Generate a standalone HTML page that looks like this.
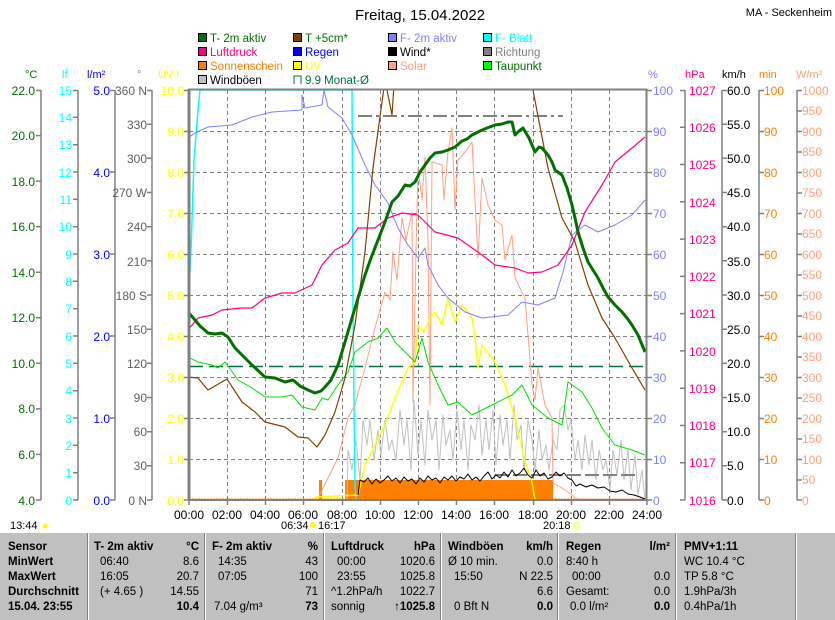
<!DOCTYPE html>
<html><head><meta charset="utf-8">
<style>
body{margin:0;background:#fff;width:835px;height:620px;overflow:hidden;font-family:"Liberation Sans",sans-serif}
svg text{font-family:"Liberation Sans",sans-serif}
.tb{position:absolute;left:0;top:533px;width:835px;height:87px;background:#c0c0c0;font-size:11.5px}
.c{position:absolute;top:0;height:87px;border-left:1px solid #fff;box-shadow:-1px 0 0 #808080}
.r{position:absolute;white-space:nowrap}
.b{font-weight:bold}
</style></head><body>
<svg width="835" height="533" style="position:absolute;left:0;top:0" font-size="12">
<defs><clipPath id="cp"><rect x="189" y="90" width="458" height="410"/></clipPath></defs>
<text x="420" y="20" text-anchor="middle" font-size="15">Freitag, 15.04.2022</text>
<text x="832" y="16" text-anchor="end" font-size="11">MA - Seckenheim</text>
<g font-size="11.5" stroke="#000" stroke-width="1">
<rect x="198.5" y="33.5" width="8" height="8" fill="#007000"/><rect x="198.5" y="47.5" width="8" height="8" fill="#ff0080"/><rect x="198.5" y="61.5" width="8" height="8" fill="#ff8000"/><rect x="198.5" y="75.5" width="8" height="8" fill="#c0c0c0"/>
<rect x="293.5" y="33.5" width="8" height="8" fill="#804000"/><rect x="293.5" y="47.5" width="8" height="8" fill="#0000ff"/><rect x="293.5" y="61.5" width="8" height="8" fill="#ffff00"/>
<rect x="388.5" y="33.5" width="8" height="8" fill="#8080ff"/><rect x="388.5" y="47.5" width="8" height="8" fill="#000"/><rect x="388.5" y="61.5" width="8" height="8" fill="#ffa080"/>
<rect x="483.5" y="33.5" width="8" height="8" fill="#00ffff"/><rect x="483.5" y="47.5" width="8" height="8" fill="#808080"/><rect x="483.5" y="61.5" width="8" height="8" fill="#00ff00"/>
<path d="M294 84V76h7v8" fill="none" stroke="#007040"/>
</g>
<g font-size="11.5">
<text x="210" y="42" fill="#007000">T- 2m aktiv</text><text x="210" y="56" fill="#ff0080">Luftdruck</text><text x="210" y="70" fill="#ff8000">Sonnenschein</text><text x="210" y="84">Windböen</text>
<text x="305" y="42" fill="#007000">T +5cm*</text><text x="305" y="56" fill="#0000ff">Regen</text><text x="305" y="70" fill="#ffff00">UV</text><text x="305" y="84" fill="#007040">9.9 Monat-Ø</text>
<text x="400" y="42" fill="#8080ff">F- 2m aktiv</text><text x="400" y="56">Wind*</text><text x="400" y="70" fill="#ffa080">Solar</text>
<text x="495" y="42" fill="#00ffff">F- Blatt</text><text x="495" y="56" fill="#808080">Richtung</text><text x="495" y="70" fill="#007000">Taupunkt</text>
</g>
<g font-size="11">
<text x="25" y="78" fill="#007000">°C</text><text x="62" y="78" fill="#00ffff">lf</text><text x="87" y="78" fill="#0000ff">l/m²</text><text x="137" y="78" fill="#808080">°</text><text x="158" y="78" fill="#ffff00">UV-I</text>
<text x="648" y="78" fill="#8080ff">%</text><text x="685" y="78" fill="#ff0080">hPa</text><text x="722" y="78">km/h</text><text x="759" y="78" fill="#ff8000">min</text><text x="796" y="78" fill="#ffa080">W/m²</text>
</g>
<g stroke="#808080" stroke-dasharray="4,3" stroke-width="1">
<path d="M227.5 90V500M265.5 90V500M303.5 90V500M342.5 90V500M380.5 90V500M418.5 90V500M456.5 90V500M494.5 90V500M533.5 90V500M571.5 90V500M609.5 90V500"/>
<path d="M189 131.5H647M189 172.5H647M189 213.5H647M189 254.5H647M189 295.5H647M189 336.5H647M189 377.5H647M189 418.5H647M189 459.5H647"/>
</g>
<g stroke="#808080" stroke-width="1.5" fill="none">
<path d="M41 90V500M78 90V500M115 90V500M152 90V500M685 90V500M722 90V500M759 90V500M797 90V500"/>
<path d="M36 90.5H41M36 135.6H41M36 181.1H41M36 226.7H41M36 272.2H41M36 317.8H41M36 363.3H41M36 408.9H41M36 454.4H41M36 500H41"/>
<path d="M73 90.5H78M73 117.3H78M73 144.7H78M73 172H78M73 199.3H78M73 226.7H78M73 254H78M73 281.3H78M73 308.7H78M73 336H78M73 363.3H78M73 390.7H78M73 418H78M73 445.3H78M73 472.7H78M73 500H78"/>
<path d="M110 90.5H115M110 172H115M110 254H115M110 336H115M110 418H115M110 500H115"/>
<path d="M147 90.5H152M147 124.2H152M147 158.3H152M147 192.5H152M147 226.7H152M147 260.8H152M147 295H152M147 329.2H152M147 363.3H152M147 397.5H152M147 431.7H152M147 465.8H152M147 500H152"/>
<path d="M184 90.5H189M184 131.5H189M184 172.5H189M184 213.5H189M184 254.5H189M184 295.5H189M184 336.5H189M184 377.5H189M184 418.5H189M184 459.5H189M184 500H189"/>
<path d="M647 90.5H652M647 131.5H652M647 172.5H652M647 213.5H652M647 254.5H652M647 295.5H652M647 336.5H652M647 377.5H652M647 418.5H652M647 459.5H652M647 500H652"/>
<path d="M680 90.5H685M680 127.3H685M680 164.5H685M680 201.8H685M680 239.1H685M680 276.4H685M680 313.6H685M680 350.9H685M680 388.2H685M680 425.5H685M680 462.7H685M680 500H685"/>
<path d="M722 90.5H727M722 124.2H727M722 158.3H727M722 192.5H727M722 226.7H727M722 260.8H727M722 295H727M722 329.2H727M722 363.3H727M722 397.5H727M722 431.7H727M722 465.8H727M722 500H727"/>
<path d="M759 90.5H764M759 131.5H764M759 172.5H764M759 213.5H764M759 254.5H764M759 295.5H764M759 336.5H764M759 377.5H764M759 418.5H764M759 459.5H764M759 500H764"/>
<path d="M797 90.5H802M797 111H802M797 131.5H802M797 152H802M797 172.5H802M797 193H802M797 213.5H802M797 234H802M797 254.5H802M797 275H802M797 295.5H802M797 316H802M797 336.5H802M797 357H802M797 377.5H802M797 398H802M797 418.5H802M797 439H802M797 459.5H802M797 480H802M797 500H802"/>
<path d="M227.5 500V505M265.5 500V505M303.5 500V505M342.5 500V505M380.5 500V505M418.5 500V505M456.5 500V505M494.5 500V505M533.5 500V505M571.5 500V505M609.5 500V505M647 500V505M189 500V505"/>
</g>
<g font-size="12" text-anchor="end">
<g fill="#007000"><text x="35" y="95">22.0</text><text x="35" y="140">20.0</text><text x="35" y="186">18.0</text><text x="35" y="231">16.0</text><text x="35" y="277">14.0</text><text x="35" y="322">12.0</text><text x="35" y="368">10.0</text><text x="35" y="413">8.0</text><text x="35" y="459">6.0</text><text x="35" y="505">4.0</text></g>
<g fill="#00ffff"><text x="72" y="95">15</text><text x="72" y="122">14</text><text x="72" y="149">13</text><text x="72" y="177">12</text><text x="72" y="204">11</text><text x="72" y="231">10</text><text x="72" y="259">9</text><text x="72" y="286">8</text><text x="72" y="313">7</text><text x="72" y="341">6</text><text x="72" y="368">5</text><text x="72" y="395">4</text><text x="72" y="423">3</text><text x="72" y="450">2</text><text x="72" y="477">1</text><text x="72" y="505">0</text></g>
<g fill="#0000ff"><text x="110" y="95">5.0</text><text x="110" y="177">4.0</text><text x="110" y="259">3.0</text><text x="110" y="341">2.0</text><text x="110" y="423">1.0</text><text x="110" y="505">0.0</text></g>
<g fill="#606060"><text x="147" y="95">360 N</text><text x="147" y="129">330</text><text x="147" y="163">300</text><text x="147" y="197">270 W</text><text x="147" y="231">240</text><text x="147" y="266">210</text><text x="147" y="300">180 S</text><text x="147" y="334">150</text><text x="147" y="368">120</text><text x="147" y="402">90</text><text x="147" y="436">60</text><text x="147" y="470">30</text><text x="147" y="505">0 N</text></g>
<g fill="#ffff00"><text x="184" y="95">10.0</text><text x="184" y="136">9.0</text><text x="184" y="177">8.0</text><text x="184" y="218">7.0</text><text x="184" y="259">6.0</text><text x="184" y="300">5.0</text><text x="184" y="341">4.0</text><text x="184" y="382">3.0</text><text x="184" y="423">2.0</text><text x="184" y="464">1.0</text><text x="184" y="505">0.0</text></g>
</g>
<g font-size="12">
<g fill="#8080ff"><text x="653" y="95">100</text><text x="653" y="136">90</text><text x="653" y="177">80</text><text x="653" y="218">70</text><text x="653" y="259">60</text><text x="653" y="300">50</text><text x="653" y="341">40</text><text x="653" y="382">30</text><text x="653" y="423">20</text><text x="653" y="464">10</text><text x="653" y="505">0</text></g>
<g fill="#ff0080"><text x="689" y="95">1027</text><text x="689" y="132">1026</text><text x="689" y="169">1025</text><text x="689" y="207">1024</text><text x="689" y="244">1023</text><text x="689" y="281">1022</text><text x="689" y="318">1021</text><text x="689" y="356">1020</text><text x="689" y="393">1019</text><text x="689" y="430">1018</text><text x="689" y="467">1017</text><text x="689" y="505">1016</text></g>
<g fill="#000"><text x="727" y="95">60.0</text><text x="727" y="129">55.0</text><text x="727" y="163">50.0</text><text x="727" y="197">45.0</text><text x="727" y="231">40.0</text><text x="727" y="266">35.0</text><text x="727" y="300">30.0</text><text x="727" y="334">25.0</text><text x="727" y="368">20.0</text><text x="727" y="402">15.0</text><text x="727" y="436">10.0</text><text x="727" y="470">5.0</text><text x="727" y="505">0.0</text></g>
<g fill="#ff8000"><text x="764" y="95">100</text><text x="764" y="136">90</text><text x="764" y="177">80</text><text x="764" y="218">70</text><text x="764" y="259">60</text><text x="764" y="300">50</text><text x="764" y="341">40</text><text x="764" y="382">30</text><text x="764" y="423">20</text><text x="764" y="464">10</text><text x="764" y="505">0</text></g>
<g fill="#ffa080"><text x="802" y="95">1000</text><text x="802" y="115">950</text><text x="802" y="136">900</text><text x="802" y="156">850</text><text x="802" y="177">800</text><text x="802" y="197">750</text><text x="802" y="218">700</text><text x="802" y="238">650</text><text x="802" y="259">600</text><text x="802" y="279">550</text><text x="802" y="300">500</text><text x="802" y="320">450</text><text x="802" y="341">400</text><text x="802" y="361">350</text><text x="802" y="382">300</text><text x="802" y="402">250</text><text x="802" y="423">200</text><text x="802" y="443">150</text><text x="802" y="464">100</text><text x="802" y="484">50</text><text x="802" y="505">0</text></g>
</g>
<g font-size="12" text-anchor="middle">
<text x="189" y="519">00:00</text><text x="227" y="519">02:00</text><text x="265" y="519">04:00</text><text x="303" y="519">06:00</text><text x="342" y="519">08:00</text><text x="380" y="519">10:00</text><text x="418" y="519">12:00</text><text x="456" y="519">14:00</text><text x="494" y="519">16:00</text><text x="533" y="519">18:00</text><text x="571" y="519">20:00</text><text x="609" y="519">22:00</text><text x="647" y="519">24:00</text>
</g>
<g font-size="11"><text x="10" y="529">13:44</text><text x="281" y="529">06:34</text><text x="318" y="529">16:17</text><text x="543" y="529">20:18</text></g>
<circle cx="45" cy="526" r="2.5" fill="#ffff00"/><circle cx="313" cy="525" r="3" fill="#ffff00"/><rect x="574" y="523" width="5" height="5" fill="none" stroke="#ffff00"/>
<g clip-path="url(#cp)" fill="none" stroke-linejoin="round">
<rect x="345" y="480" width="208" height="20" fill="#ff8000" stroke="none"/>
<rect x="319" y="480" width="3" height="20" fill="#ff8000" stroke="none"/>
<path d="M189 499H647" stroke="#ff8000" stroke-dasharray="2,1"/>
<polyline stroke="#c0c0c0" points="347,500 348,450 352,470 356,440 360,480 363,420 367,445 370,420 374,460 378,430 381,455 385,420 389,450 392,440 396,460 400,410 404,445 407,420 411,470 414,400 418,455 421,420 425,465 428,410 432,440 436,420 439,470 443,415 446,445 450,430 453,460 457,410 461,450 464,420 468,470 471,425 475,440 479,405 482,455 486,420 489,450 493,410 496,465 500,415 503,445 507,420 510,460 514,405 517,440 521,425 524,470 528,420 532,440 535,470 539,430 542,460 546,445 549,470 553,440 557,450 560,410 564,405 568,430 571,420 575,460 578,440 582,470 585,435 589,465 592,440 596,480 599,450 603,470 606,460 610,490 613,450 617,475 621,440 624,480 628,450 631,490 635,455 638,495 642,470 645,500"/>
<path d="M358 116H563" stroke="#808080" stroke-width="2" stroke-dasharray="14,4,3,4"/>
<path d="M495 475H635" stroke="#808080" stroke-width="2" stroke-dasharray="14,4"/>
<path d="M189 366.5H647" stroke="#007040" stroke-width="1.5" stroke-dasharray="14,6"/>
<polyline stroke="#00ffff" stroke-width="1.5" points="188,312 191,250 194,160 196,135 198,110 200,90 352,90 353,312 355,485 356,500"/>
<polyline stroke="#ffa080" points="318,498 328,478 338,458 348,418 355,405 365,368 375,328 385,292 390,300 393,252 397,280 402,218 406,240 412,212 413,402 416,250 418,168 422,200 425,157 428,240 430,405 432,162 442,165 444,200 448,152 452,128 455,210 458,160 465,152 472,142 478,258 482,178 488,205 495,220 502,225 505,260 512,235 515,278 525,298 528,335 532,385 535,400 538,368 545,405 552,418 553,483 562,488 572,495 577,499 647,499"/>
<polyline stroke="#ffff00" stroke-width="1.5" points="313,500 316,497 358,495 365,465 375,445 385,425 395,398 402,382 408,368 415,362 418,325 424,332 430,318 435,312 442,325 448,298 455,322 462,305 468,312 472,318 475,338 478,368 482,345 495,362 505,385 515,418 525,462 532,482 535,500"/>
<polyline stroke="#8080ff" points="188,138 195,133 208,127 232,125 252,117 272,112 302,110 302,95 305,108 322,105 324,90 328,107 342,118 352,135 365,165 375,185 388,203 398,228 408,245 418,258 425,248 428,265 438,285 448,298 465,312 482,318 508,315 522,302 538,305 555,298 563,272 572,235 585,225 598,232 615,225 632,215 645,200"/>
<polyline stroke="#ff0080" stroke-width="1.2" points="188,330 198,318 212,315 222,310 242,308 252,308 265,298 282,293 295,293 312,285 322,265 335,250 348,243 358,228 375,228 388,218 402,213 418,215 435,232 458,238 482,255 495,265 515,268 528,273 542,272 558,265 572,245 585,212 602,185 615,162 632,148 645,137"/>
<polyline stroke="#00e000" points="188,357 198,362 212,365 218,368 225,362 238,380 252,388 265,397 282,397 292,395 302,407 315,410 322,398 328,400 338,385 348,372 355,352 368,342 378,338 387,328 395,342 405,352 415,362 422,338 428,362 438,385 448,405 458,402 472,415 492,405 512,395 522,385 532,405 548,418 562,425 568,382 582,392 592,408 602,428 615,445 632,450 645,455"/>
<polyline stroke="#804000" stroke-width="1.2" points="188,377 198,378 208,390 227,379 242,402 255,412 265,422 285,427 298,437 308,438 317,447 325,435 335,412 345,378 355,325 365,252 373,168 382,102 385,80 392,115 395,70 530,70 532,85 548,168 562,218 575,242 588,285 602,318 615,338 632,368 645,390"/>
<polyline stroke="#000" points="358,495 360,480 364,482 368,478 372,484 376,479 380,483 384,480 388,476 392,481 396,478 400,483 404,477 408,481 412,479 416,484 420,478 424,482 428,476 432,480 436,478 440,483 444,477 448,480 452,476 456,481 460,477 464,479 468,474 472,480 476,477 480,481 484,476 488,472 492,479 496,475 500,478 504,472 508,477 512,470 516,476 520,473 524,468 528,475 532,478 536,470 540,476 544,473 548,479 552,477 556,472 560,476 564,473 568,478 572,480 576,486 580,484 586,487 592,485 598,488 604,487 610,491 616,492 622,490 628,494 634,495 640,497 645,499"/>
<polyline stroke="#007000" stroke-width="3" points="188,312 195,320 200,326 208,333 215,334 222,333 228,337 235,348 244,357 252,365 265,377 275,378 285,382 293,380 300,386 308,390 315,393 321,391 325,387 331,380 338,365 345,342 352,318 358,298 365,275 371,258 378,240 385,222 392,202 398,196 405,185 410,186 415,182 420,172 425,165 430,158 435,153 442,152 448,150 455,147 462,141 467,139 472,135 480,131 487,128 495,125 502,124 508,122 512,122 515,135 519,131 523,128 529,138 535,152 539,147 542,148 548,155 552,162 555,170 562,175 567,188 572,205 575,218 578,232 583,248 588,262 593,270 598,278 603,288 608,297 615,305 622,312 627,318 632,325 638,335 645,352"/>
</g>
<rect x="189.5" y="89.5" width="457" height="410.5" fill="none" stroke="#808080" stroke-width="2"/>
<path d="M189 89V500" stroke="#808080" stroke-width="3"/>
</svg>
<div class="tb">
<div class="c" style="left:88px"></div><div class="c" style="left:205px"></div><div class="c" style="left:324px"></div><div class="c" style="left:441px"></div><div class="c" style="left:558px"></div><div class="c" style="left:676px"></div><div class="c" style="left:796px"></div>
<div class="r b" style="left:8px;top:8px">Sensor</div><div class="r b" style="left:8px;top:23px">MinWert</div><div class="r b" style="left:8px;top:38px">MaxWert</div><div class="r b" style="left:8px;top:53px">Durchschnitt</div><div class="r b" style="left:8px;top:68px">15.04. 23:55</div>
<div class="r b" style="left:94px;top:8px">T- 2m aktiv</div><div class="r b" style="right:636px;top:8px">°C</div>
<div class="r" style="left:100px;top:23px">06:40</div><div class="r" style="right:636px;top:23px">8.6</div>
<div class="r" style="left:100px;top:38px">16:05</div><div class="r" style="right:636px;top:38px">20.7</div>
<div class="r" style="left:100px;top:53px">(+ 4.65 )</div><div class="r" style="right:636px;top:53px">14.55</div>
<div class="r b" style="right:636px;top:68px">10.4</div>
<div class="r b" style="left:212px;top:8px">F- 2m aktiv</div><div class="r b" style="right:517px;top:8px">%</div>
<div class="r" style="left:218px;top:23px">14:35</div><div class="r" style="right:517px;top:23px">43</div>
<div class="r" style="left:218px;top:38px">07:05</div><div class="r" style="right:517px;top:38px">100</div>
<div class="r" style="right:517px;top:53px">71</div>
<div class="r" style="left:214px;top:68px">7.04 g/m³</div><div class="r b" style="right:517px;top:68px">73</div>
<div class="r b" style="left:331px;top:8px">Luftdruck</div><div class="r b" style="right:400px;top:8px">hPa</div>
<div class="r" style="left:337px;top:23px">00:00</div><div class="r" style="right:400px;top:23px">1020.6</div>
<div class="r" style="left:337px;top:38px">23:55</div><div class="r" style="right:400px;top:38px">1025.8</div>
<div class="r" style="left:331px;top:53px">^1.2hPa/h</div><div class="r" style="right:400px;top:53px">1022.7</div>
<div class="r" style="left:331px;top:68px">sonnig</div><div class="r b" style="right:400px;top:68px">↑1025.8</div>
<div class="r b" style="left:448px;top:8px">Windböen</div><div class="r b" style="right:282px;top:8px">km/h</div>
<div class="r" style="left:448px;top:23px">Ø 10 min.</div><div class="r" style="right:282px;top:23px">0.0</div>
<div class="r" style="left:454px;top:38px">15:50</div><div class="r" style="right:282px;top:38px">N 22.5</div>
<div class="r" style="right:282px;top:53px">6.6</div>
<div class="r" style="left:454px;top:68px">0 Bft N</div><div class="r b" style="right:282px;top:68px">0.0</div>
<div class="r b" style="left:566px;top:8px">Regen</div><div class="r b" style="right:165px;top:8px">l/m²</div>
<div class="r" style="left:566px;top:23px">8:40 h</div>
<div class="r" style="left:572px;top:38px">00:00</div><div class="r" style="right:165px;top:38px">0.0</div>
<div class="r" style="left:566px;top:53px">Gesamt:</div><div class="r" style="right:165px;top:53px">0.0</div>
<div class="r" style="left:570px;top:68px">0.0 l/m²</div><div class="r b" style="right:165px;top:68px">0.0</div>
<div class="r b" style="left:684px;top:8px">PMV+1:11</div>
<div class="r" style="left:684px;top:23px">WC 10.4 °C</div><div class="r" style="left:684px;top:38px">TP 5.8 °C</div><div class="r" style="left:684px;top:53px">1.9hPa/3h</div><div class="r" style="left:684px;top:68px">0.4hPa/1h</div>
</div>
</body></html>
